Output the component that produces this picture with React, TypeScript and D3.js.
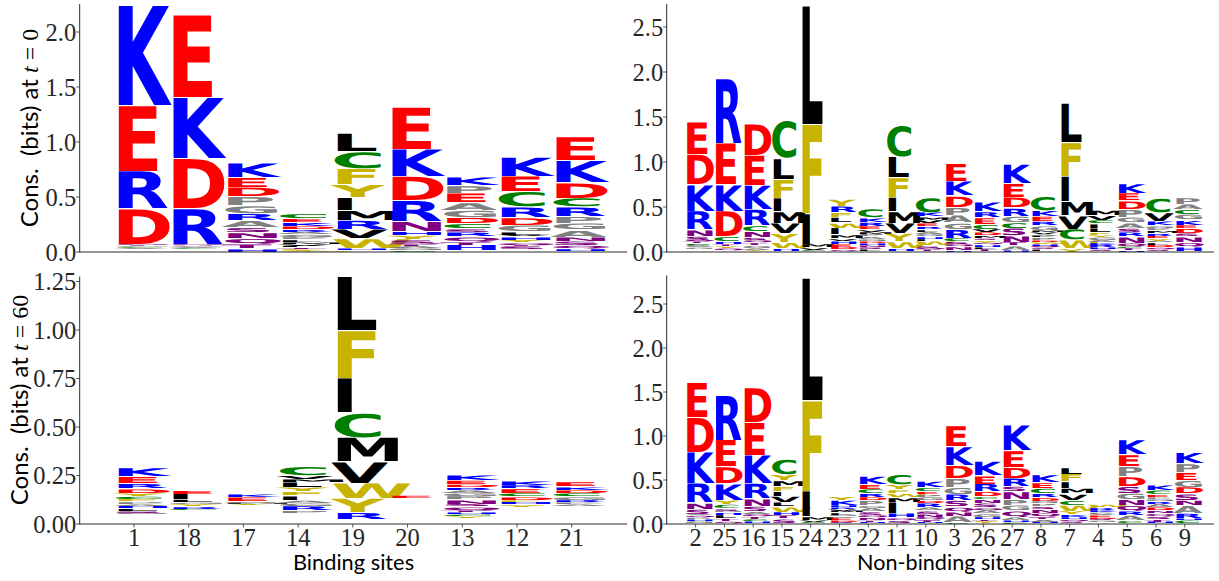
import React from "react";
import * as d3 from "d3";

// Binding sites, t = 0
const bindSites = ["1", "18", "17", "14", "19", "20", "13", "12", "21"];
const bindT0Base = [0.03, 0.03, 0, 0, 0.015, 0, 0.01, 0.02, 0.005];
const bindT0Letters = ["ACGTNQDREK", "CAGSNQRDKE", "HTQNSARGPDEK", "WYFTIVMLPGARDKEC", "HWVRMIYFCL", "CGATQSYHNRDKE", "HTQRSCDGAEPK", "STQYHVLGDRCEK", "HQSNAGPRCDKE"];
const bindT0Bits = [
  [0.008, 0.008, 0.008, 0.006, 0.006, 0.004, 0.322, 0.342, 0.598, 0.91],
  [0.008, 0.008, 0.008, 0.006, 0.006, 0.004, 0.325, 0.455, 0.555, 0.75],
  [0.03, 0.04, 0.053, 0.052, 0.045, 0.064, 0.064, 0.07, 0.083, 0.085, 0.09, 0.13],
  [0.008, 0.012, 0.01, 0.012, 0.015, 0.018, 0.018, 0.02, 0.02, 0.025, 0.025, 0.023, 0.03, 0.035, 0.035, 0.045],
  [0.018, 0.088, 0.085, 0.084, 0.09, 0.117, 0.118, 0.145, 0.155, 0.165],
  [0.012, 0.02, 0.02, 0.018, 0.012, 0.03, 0.038, 0.035, 0.09, 0.19, 0.22, 0.25, 0.385],
  [0.054, 0.03, 0.046, 0.041, 0.03, 0.045, 0.055, 0.067, 0.07, 0.085, 0.07, 0.076],
  [0.03, 0.01, 0.025, 0.025, 0.03, 0.015, 0.03, 0.06, 0.07, 0.095, 0.14, 0.14, 0.175],
  [0.02, 0.03, 0.04, 0.04, 0.065, 0.06, 0.065, 0.085, 0.08, 0.14, 0.2, 0.215],
];

// Non-binding sites, t = 0
const nonBindSites = ["2", "25", "16", "15", "24", "23", "22", "11", "10", "3", "26", "27", "8", "7", "4", "5", "6", "9"];
const nonT0Base = [0.03, 0.02, 0.01, 0.01, 0.01, 0.01, 0.01, 0.01, 0.005, 0, 0.01, 0, 0.01, 0, 0.01, 0, 0.01, 0.01];
const nonT0Letters = ["GAPCTQSNRKDE", "QYTHCDKER", "YAGTQSNCRKED", "HWYVMIFLC", "CVMIFL", "QDEHVMIWLFRY", "LSNHDGAPMVERKC", "HWYVMIFLC", "TQSWIHGALREVMKC", "HNQSCRGAPDKE", "TLHQYSMDVCERK", "HATNSCGRDEK", "ISQHWDPLAVMGREKC", "YWCVMIFL", "SHRKAGYFLICVM", "HTCQNRSAGPDEK", "SQDLAYERMPGKVC", "HQNSDEKGCAP"];
const nonT0Bits = [
  [0.02, 0.015, 0.015, 0.015, 0.02, 0.018, 0.045, 0.07, 0.207, 0.293, 0.335, 0.361],
  [0.025, 0.02, 0.02, 0.03, 0.055, 0.285, 0.295, 0.46, 0.72],
  [0.015, 0.02, 0.03, 0.025, 0.03, 0.03, 0.065, 0.065, 0.18, 0.27, 0.335, 0.35],
  [0.03, 0.065, 0.1, 0.115, 0.13, 0.15, 0.21, 0.23, 0.42],
  [0.012, 0.025, 0.04, 0.34, 0.99, 1.316],
  [0.015, 0.03, 0.035, 0.035, 0.025, 0.04, 0.075, 0.058, 0.057, 0.055, 0.07, 0.08],
  [0.02, 0.025, 0.02, 0.02, 0.02, 0.025, 0.03, 0.03, 0.025, 0.025, 0.035, 0.045, 0.05, 0.098],
  [0.03, 0.075, 0.09, 0.115, 0.13, 0.158, 0.22, 0.232, 0.352],
  [0.02, 0.02, 0.025, 0.05, 0.025, 0.025, 0.03, 0.025, 0.025, 0.03, 0.035, 0.04, 0.035, 0.05, 0.167],
  [0.015, 0.04, 0.03, 0.03, 0.04, 0.1, 0.07, 0.085, 0.09, 0.125, 0.16, 0.2],
  [0.025, 0.02, 0.025, 0.02, 0.03, 0.02, 0.03, 0.035, 0.04, 0.055, 0.075, 0.063, 0.104],
  [0.02, 0.05, 0.04, 0.07, 0.085, 0.065, 0.07, 0.09, 0.115, 0.155, 0.214],
  [0.02, 0.02, 0.02, 0.02, 0.02, 0.02, 0.03, 0.02, 0.02, 0.02, 0.02, 0.05, 0.045, 0.058, 0.065, 0.157],
  [0.04, 0.095, 0.12, 0.15, 0.155, 0.28, 0.375, 0.437],
  [0.02, 0.02, 0.03, 0.025, 0.025, 0.035, 0.02, 0.03, 0.05, 0.05, 0.04, 0.055, 0.057],
  [0.015, 0.025, 0.02, 0.04, 0.07, 0.05, 0.045, 0.06, 0.06, 0.09, 0.095, 0.085, 0.108],
  [0.02, 0.02, 0.03, 0.025, 0.02, 0.025, 0.03, 0.03, 0.03, 0.025, 0.025, 0.05, 0.097, 0.16],
  [0.05, 0.05, 0.06, 0.035, 0.055, 0.04, 0.056, 0.06, 0.055, 0.06, 0.076],
];

// Binding sites, t = 60
const bindT60Base = [0.05, 0.07, 0.095, 0.055, 0.022, 0.13, 0.03, 0.088, 0.09];
const bindT60Letters = ["GSLHAPFCYDREK", "CRYGLIE", "YMGEK", "PRGAIFYLMVC", "RYWVMCIFL", "E", "YCHTQSNPGARDEK", "YHFDCERK", "APRGCDKE"];
const bindT60Bits = [
  [0.007, 0.01, 0.013, 0.014, 0.01, 0.012, 0.012, 0.015, 0.017, 0.023, 0.025, 0.036, 0.045],
  [0.008, 0.012, 0.012, 0.008, 0.015, 0.03, 0.02],
  [0.008, 0.005, 0.007, 0.022, 0.016],
  [0.014, 0.024, 0.016, 0.015, 0.022, 0.02, 0.022, 0.028, 0.016, 0.02, 0.047],
  [0.036, 0.073, 0.08, 0.11, 0.124, 0.128, 0.178, 0.246, 0.278],
  [0.015],
  [0.01, 0.01, 0.01, 0.01, 0.02, 0.013, 0.022, 0.018, 0.017, 0.016, 0.014, 0.015, 0.021, 0.028],
  [0.012, 0.013, 0.01, 0.017, 0.018, 0.024, 0.018, 0.022],
  [0.01, 0.01, 0.012, 0.018, 0.018, 0.017, 0.017, 0.024],
];

// Non-binding sites, t = 60
const nonT60Base = [0.01, 0.01, 0.01, 0.01, 0.01, 0.01, 0.005, 0.01, 0.005, 0, 0.005, 0, 0.005, 0.01, 0.02, 0.005, 0.005, 0.005];
const nonT60Letters = ["GHPQASNRKDE", "QTLHGSCYKDER", "HCTQASNRKED", "STHWLVIFMYC", "CVMIFL", "SDEAGLMVRHKY", "HTNQSAGPDRCEK", "SQHIMWFYC", "HTQNSARDGPECK", "CANQSRGPDKE", "YTHGAQSNCDREK", "CHAQGPNSRDEK", "HATQNSPGDRCEK", "SQHKYWCVMIFL", "GSDEAPKRW", "CARQNGSDPEK", "HTSQNDARGPECK", "CHRANSDGEPK"];
const nonT60Bits = [
  [0.025, 0.02, 0.02, 0.02, 0.015, 0.06, 0.07, 0.22, 0.358, 0.398, 0.398],
  [0.02, 0.03, 0.04, 0.03, 0.02, 0.025, 0.048, 0.05, 0.187, 0.19, 0.305, 0.511],
  [0.02, 0.025, 0.03, 0.03, 0.03, 0.06, 0.085, 0.172, 0.322, 0.375, 0.394],
  [0.05, 0.035, 0.038, 0.062, 0.05, 0.07, 0.055, 0.055, 0.065, 0.068, 0.177],
  [0.015, 0.02, 0.04, 0.29, 1.03, 1.39],
  [0.015, 0.02, 0.025, 0.015, 0.02, 0.025, 0.02, 0.02, 0.02, 0.025, 0.058, 0.045],
  [0.015, 0.02, 0.03, 0.03, 0.04, 0.04, 0.03, 0.055, 0.038, 0.042, 0.053, 0.057, 0.094],
  [0.03, 0.03, 0.05, 0.13, 0.053, 0.045, 0.04, 0.055, 0.114],
  [0.015, 0.025, 0.035, 0.035, 0.035, 0.035, 0.05, 0.03, 0.04, 0.03, 0.03, 0.045, 0.07],
  [0.015, 0.075, 0.05, 0.055, 0.07, 0.072, 0.08, 0.102, 0.148, 0.212, 0.235],
  [0.03, 0.015, 0.025, 0.04, 0.04, 0.03, 0.05, 0.045, 0.03, 0.055, 0.09, 0.095, 0.162],
  [0.02, 0.02, 0.038, 0.072, 0.063, 0.067, 0.087, 0.06, 0.095, 0.125, 0.19, 0.288],
  [0.02, 0.03, 0.025, 0.045, 0.045, 0.03, 0.03, 0.031, 0.042, 0.042, 0.06, 0.065, 0.086],
  [0.02, 0.02, 0.025, 0.03, 0.04, 0.07, 0.058, 0.07, 0.06, 0.075, 0.09, 0.076],
  [0.02, 0.02, 0.02, 0.02, 0.015, 0.02, 0.025, 0.025, 0.031],
  [0.03, 0.06, 0.05, 0.065, 0.068, 0.072, 0.08, 0.11, 0.115, 0.133, 0.167],
  [0.02, 0.03, 0.03, 0.035, 0.03, 0.035, 0.04, 0.03, 0.025, 0.022, 0.03, 0.05, 0.061],
  [0.035, 0.02, 0.06, 0.09, 0.06, 0.075, 0.075, 0.08, 0.09, 0.1, 0.124],
];

const t0BindTicks = [0, 0.5, 1, 1.5, 2];
const nonTicks = [0, 0.5, 1, 1.5, 2, 2.5];
const t60BindTicks = [0, 0.25, 0.5, 0.75, 1, 1.25];

const letterColor = (l: string) => {
  if ("KRH".includes(l)) return "#0000ff";
  if ("DE".includes(l)) return "#ff0000";
  if ("LIMV".includes(l)) return "#000000";
  if ("FWY".includes(l)) return "#c8b400";
  if ("C".includes(l)) return "#008000";
  if ("AGP".includes(l)) return "#808080";
  return "#800080";
};

const inkCache: Record<string, { asc: number; desc: number }> = {};
let ctx: CanvasRenderingContext2D | null = null;
const LOGO_FONT = '"DejaVu Sans"';
function ink(l: string) {
  if (inkCache[l]) return inkCache[l];
  if (!ctx) {
    ctx = document.createElement("canvas").getContext("2d");
    ctx!.font = `bold 100px ${LOGO_FONT}`;
  }
  const m = ctx!.measureText(l);
  inkCache[l] = { asc: m.actualBoundingBoxAscent, desc: m.actualBoundingBoxDescent };
  return inkCache[l];
}

const SPINE = "#2b2b2b";
const SERIF = '"Liberation Serif", serif';
const SANS = 'Lato, sans-serif';

type PanelProps = {
  sites: string[];
  base: number[];
  letters: string[];
  bits: number[][];
  ticks: number[];
  tickFmt: (v: number) => string;
  left: number;
  right: number;
  y0: number;
  pxPerBit: number;
  top: number;
  firstX: number;
  lastX: number;
  emPx: number;
  originOffset: number;
  showXTicks: boolean;
};

function Panel(p: PanelProps) {
  const yMax = (p.y0 - p.top) / p.pxPerBit;
  const y = d3.scaleLinear().domain([0, yMax]).range([p.y0, p.top]);
  const x = d3.scalePoint<string>().domain(p.sites).range([p.firstX, p.lastX]);
  const sx = p.emPx / 100;
  return (
    <g>
      {p.sites.map((site, i) => {
        const cx = x(site)!;
        const stacks = d3.cumsum(p.bits[i]);
        return (
          <g key={site}>
            {p.bits[i].map((b, j) => {
              const l = p.letters[i][j];
              const bottom = y(p.base[i] + (j === 0 ? 0 : stacks[j - 1]));
              const topPx = y(p.base[i] + stacks[j]);
              const h = bottom - topPx;
              const pad = Math.min(0.45, h * 0.1);
              const m = ink(l);
              const sy = (h - 2 * pad) / (m.asc + m.desc);
              return (
                <text
                  key={j}
                  transform={`translate(${cx + p.originOffset},${bottom - pad - m.desc * sy}) scale(${sx},${sy})`}
                  fontFamily={LOGO_FONT}
                  fontWeight="bold"
                  fontSize={100}
                  fill={letterColor(l)}
                  textRendering="geometricPrecision"
                >
                  {l}
                </text>
              );
            })}
          </g>
        );
      })}
      <line x1={p.left} x2={p.left} y1={p.top} y2={p.y0 + 0.5} stroke={SPINE} strokeWidth={1} />
      <line x1={p.left} x2={p.right} y1={p.y0} y2={p.y0} stroke={SPINE} strokeWidth={1} />
      {p.ticks.map((t) => (
        <g key={t}>
          <line x1={p.left - 3.5} x2={p.left} y1={y(t)} y2={y(t)} stroke={SPINE} strokeWidth={0.8} />
          <text x={p.left - 3.5} y={y(t) + 8.5} textAnchor="end" fontFamily={SERIF} fontSize={24.5} fill="#262626">
            {p.tickFmt(t)}
          </text>
        </g>
      ))}
      {p.showXTicks &&
        p.sites.map((site) => (
          <g key={site}>
            <line x1={x(site)!} x2={x(site)!} y1={p.y0} y2={p.y0 + 3.5} stroke={SPINE} strokeWidth={0.8} />
            <text x={x(site)!} y={p.y0 + 21.5} textAnchor="middle" fontFamily={SERIF} fontSize={24.5} fill="#262626">
              {site}
            </text>
          </g>
        ))}
    </g>
  );
}

function YLabel({ x, y, t }: { x: number; y: number; t: string }) {
  return (
    <text transform={`translate(${x},${y}) rotate(-90)`} textAnchor="middle" fontFamily={SANS} fontSize={24} fill="#000" xmlSpace="preserve">
      {"Cons.  (bits) at "}
      <tspan fontFamily={SERIF} fontStyle="italic">t</tspan>
      <tspan fontFamily={SERIF}>{` = ${t}`}</tspan>
    </text>
  );
}

const f1 = d3.format(".1f");
const f2 = d3.format(".2f");

export default function App() {
  return (
    <svg width={1219} height={581} viewBox="0 0 1219 581" style={{ position: "absolute", left: 0, top: 0, background: "#fff" }}>
      <Panel sites={bindSites} base={bindT0Base} letters={bindT0Letters} bits={bindT0Bits} ticks={t0BindTicks} tickFmt={f1}
        left={79.7} right={627} y0={252} pxPerBit={110} top={4} firstX={134} lastX={571.7} emPx={74} originOffset={-21.9} showXTicks={false} />
      <Panel sites={nonBindSites} base={nonT0Base} letters={nonT0Letters} bits={nonT0Bits} ticks={nonTicks} tickFmt={f1}
        left={666.7} right={1214} y0={252} pxPerBit={90} top={4} firstX={695.6} lastX={1184.8} emPx={38.5} originOffset={-11.8} showXTicks={false} />
      <Panel sites={bindSites} base={bindT60Base} letters={bindT60Letters} bits={bindT60Bits} ticks={t60BindTicks} tickFmt={f2}
        left={79.7} right={627} y0={524} pxPerBit={194} top={276.5} firstX={134} lastX={571.7} emPx={74} originOffset={-21.9} showXTicks={true} />
      <Panel sites={nonBindSites} base={nonT60Base} letters={nonT60Letters} bits={nonT60Bits} ticks={nonTicks} tickFmt={f1}
        left={666.7} right={1214} y0={524} pxPerBit={88} top={275.5} firstX={695.6} lastX={1184.8} emPx={38.5} originOffset={-11.8} showXTicks={true} />
      <YLabel x={38} y={128} t="0" />
      <YLabel x={27.5} y={400} t="60" />
      <text x={353.5} y={570} textAnchor="middle" fontFamily={SANS} fontSize={21.8} fill="#000">Binding sites</text>
      <text x={940.5} y={570} textAnchor="middle" fontFamily={SANS} fontSize={21.6} fill="#000">Non-binding sites</text>
    </svg>
  );
}
